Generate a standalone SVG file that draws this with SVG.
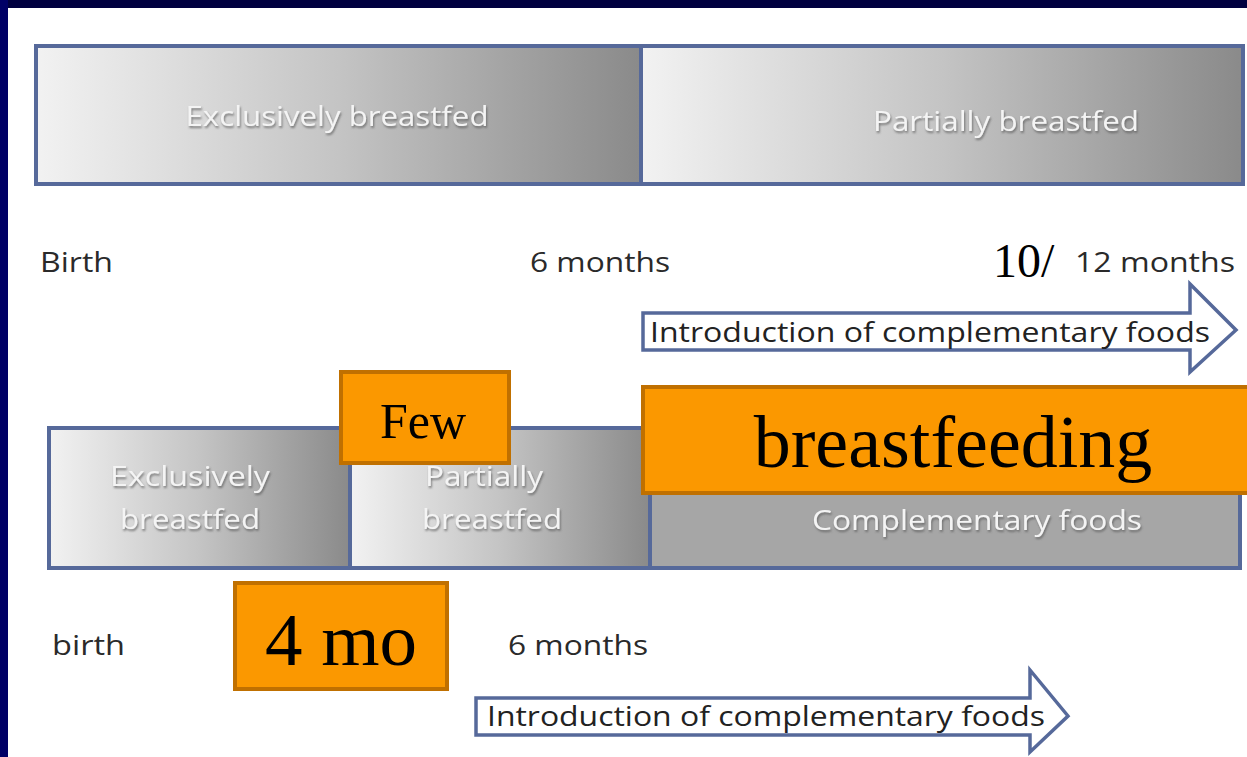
<svg xmlns="http://www.w3.org/2000/svg" width="1247" height="757" viewBox="0 0 1247 757">
<defs>
<linearGradient id="g" x1="0" y1="0" x2="1" y2="0">
<stop offset="0" stop-color="#f2f2f2"/>
<stop offset="0.5" stop-color="#c4c4c4"/>
<stop offset="1" stop-color="#8a8a8a"/>
</linearGradient>
<filter id="sh" x="-5%" y="-20%" width="110%" height="150%">
<feDropShadow dx="1" dy="2" stdDeviation="1.2" flood-color="#555" flood-opacity="0.7"/>
</filter>
</defs>
<style>
.seg{fill:url(#g);stroke:#56699a;stroke-width:4}
.wt{font-family:"Open Sans","Liberation Sans",sans-serif;fill:#f4f4f4;filter:url(#sh);text-anchor:middle}
.lbl{font-family:"Open Sans","Liberation Sans",sans-serif;fill:#2a2a2a;font-size:28px}
.arr{fill:#fff;stroke:#56699a;stroke-width:3.5}
.at{font-family:"Open Sans","Liberation Sans",sans-serif;fill:#222;font-size:28px}
.ob{fill:#fb9800;stroke:#c07000;stroke-width:4}
.ot{font-family:"Liberation Serif","Times New Roman",serif;fill:#000;text-anchor:middle}
</style>
<rect x="0" y="0" width="1247" height="757" fill="#fff"/>
<rect x="0" y="0" width="1247" height="8" fill="#000040"/>
<rect x="0" y="0" width="8" height="757" fill="#000066"/>

<g id="top-bar">
<rect class="seg" x="36" y="46" width="605" height="138"/>
<text class="wt" x="337" y="126" font-size="28" textLength="303" lengthAdjust="spacingAndGlyphs">Exclusively breastfed</text>
<rect class="seg" x="641" y="46" width="602" height="138"/>
<text class="wt" x="1006" y="131" font-size="28" textLength="266" lengthAdjust="spacingAndGlyphs">Partially breastfed</text>
</g>

<g id="top-labels">
<text class="lbl" x="40" y="272" textLength="73" lengthAdjust="spacingAndGlyphs">Birth</text>
<text class="lbl" x="530" y="272" textLength="140" lengthAdjust="spacingAndGlyphs">6 months</text>
<text x="993" y="277" font-family="Liberation Serif,serif" font-size="48" fill="#000">10/</text>
<text class="lbl" x="1075" y="272" textLength="160" lengthAdjust="spacingAndGlyphs">12 months</text>
</g>

<g id="connectors">
<path class="arr" d="M643,313 H1190 V284 L1236,330 L1190,372 V350 H643 Z"/>
<path class="arr" d="M476,698 H1030 V670 L1068,716 L1030,752 V735 H476 Z"/>
</g>
<g id="arrow-top-text">
<text class="at" x="650" y="342" textLength="560" lengthAdjust="spacingAndGlyphs">Introduction of complementary foods</text>
</g>

<g id="bottom-bar">
<rect class="seg" x="49" y="428" width="301" height="140"/>
<text class="wt" x="190" y="486" font-size="28" textLength="160" lengthAdjust="spacingAndGlyphs">Exclusively</text>
<text class="wt" x="190" y="529" font-size="28" textLength="140" lengthAdjust="spacingAndGlyphs">breastfed</text>
<rect class="seg" x="350" y="428" width="300" height="140"/>
<text class="wt" x="484" y="486" font-size="28" textLength="118" lengthAdjust="spacingAndGlyphs">Partially</text>
<text class="wt" x="492" y="529" font-size="28" textLength="140" lengthAdjust="spacingAndGlyphs">breastfed</text>
<rect x="650" y="428" width="590" height="140" fill="#a6a6a6" stroke="#56699a" stroke-width="4"/>
<text class="wt" x="977" y="530" font-size="28" textLength="330" lengthAdjust="spacingAndGlyphs">Complementary foods</text>
</g>

<g id="few">
<rect class="ob" x="341" y="372" width="168" height="91"/>
<text class="ot" x="423" y="438" font-size="50">Few</text>
</g>
<g id="breastfeeding">
<rect class="ob" x="643" y="387" width="610" height="106"/>
<text class="ot" x="953" y="467" font-size="74">breastfeeding</text>
</g>

<g id="bottom-labels">
<text class="lbl" x="52" y="655" textLength="73" lengthAdjust="spacingAndGlyphs">birth</text>
<text class="lbl" x="508" y="655" textLength="140" lengthAdjust="spacingAndGlyphs">6 months</text>
</g>
<g id="four-mo">
<rect class="ob" x="235" y="583" width="212" height="106"/>
<text class="ot" x="341" y="665" font-size="75">4 mo</text>
</g>
<g id="arrow-bottom-text">
<text class="at" x="487" y="726" textLength="558" lengthAdjust="spacingAndGlyphs">Introduction of complementary foods</text>
</g>
</svg>
